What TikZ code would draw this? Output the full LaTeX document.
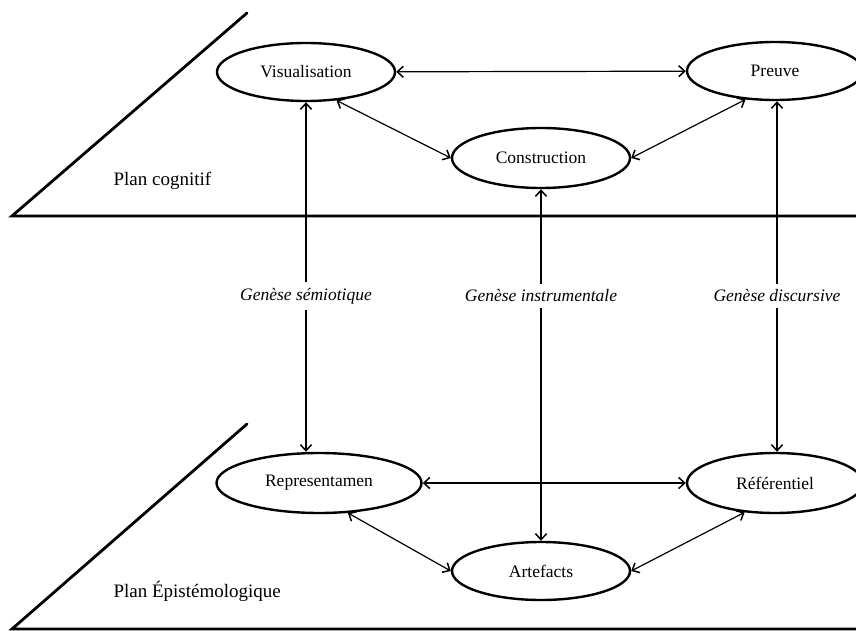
\documentclass[tikz,border=0pt]{standalone}
\usepackage{fontspec}
\setmainfont{Liberation Serif}
\usetikzlibrary{shapes.geometric,arrows.meta}

\begin{document}
\begin{tikzpicture}[x=1pt, y=-1pt,
	pole/.style={draw, ellipse, line width=2.4pt, inner sep=0pt, minimum width=178pt, minimum height=58pt, font=\fontsize{17.5}{20}\selectfont},
	genese/.style={fill=white, inner sep=6pt, font=\fontsize{17.5}{20}\selectfont\itshape},
	plan/.style={line width=2.8pt, line cap=round},
	fl/.style={line width=1.2pt, arrows={-Straight Barb[length=6pt, width=11pt, line width=1.5pt]}},
	dfl/.style={line width=1.2pt, arrows={Straight Barb[length=6pt, width=11pt, line width=1.5pt]-Straight Barb[length=6pt, width=11pt, line width=1.5pt]}}]
	\useasboundingbox (0,0) rectangle (856,631);
	% les deux plans
	\draw[plan] (247,13) -- (12,216) -- (870,216);
	\draw[plan] (247,424) -- (12,629) -- (870,629);
	\node[anchor=west, font=\fontsize{19}{22}\selectfont] (pcog) at (110,181) {Plan cognitif};
	\node[anchor=west, font=\fontsize{19}{22}\selectfont] (pepi) at (110,591) {Plan Épistémologique};

	% plan cognitif
	\node[pole] (vis) at (306,72) {Visualisation};
	\node[pole, minimum width=176pt] (pre) at (775,71) {Preuve};
	\node[pole, minimum height=60pt] (cons) at (541,158) {Construction};

	% plan epistemologique
	\node[pole, minimum width=205pt, minimum height=60pt] (rep) at (319,483) {Representamen};
	\node[pole, minimum width=176pt, minimum height=60pt] (ref) at (775,483) {Référentiel};
	\node[pole] (art) at (541,571) {Artefacts};

	% geneses
	\node[genese] (gsem) at (306,296) {Genèse sémiotique};
	\node[genese] (gins) at (541,296) {Genèse instrumentale};
	\node[genese] (gdis) at (777,296) {Genèse discursive};

	\draw[dfl] (vis) -- (pre);
	\draw[dfl] (vis.-43) -- (cons.west);
	\draw[dfl] (cons.east) -- (pre.-136);
	\draw[dfl] (rep) -- (ref);
	\draw[dfl] (rep.-46) -- (art.west);
	\draw[dfl] (art.east) -- (ref.-136);

	\draw[fl] (gsem) -- (vis.south);
	\draw[fl] (gsem) -- (gsem |- rep.north);
	\draw[fl] (gins) -- (cons.south);
	\draw[fl] (gins) -- (art.north);
	\draw[fl] (gdis) -- (gdis |- pre.south);
	\draw[fl] (gdis) -- (gdis |- ref.north);
\end{tikzpicture}
\end{document}
